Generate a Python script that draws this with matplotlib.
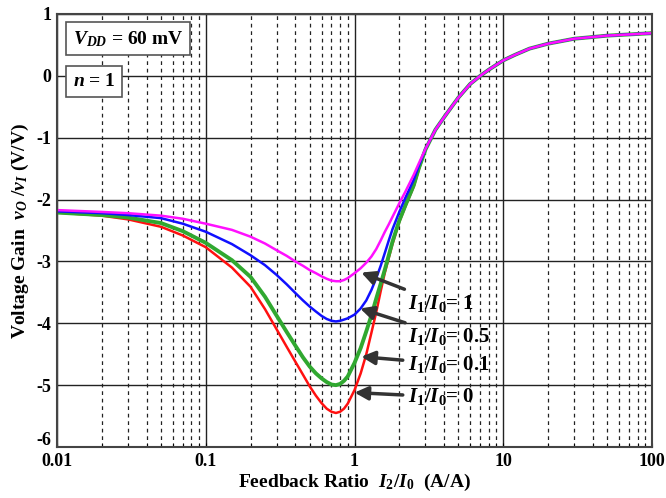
import matplotlib.pyplot as plt
import matplotlib.transforms as mtransforms
import numpy as np

plt.rcParams['font.family'] = ['Liberation Serif', 'DejaVu Serif']
plt.rcParams['font.weight'] = 'bold'
plt.rcParams['axes.labelweight'] = 'bold'
plt.rcParams['axes.unicode_minus'] = False
plt.rcParams['mathtext.fontset'] = 'custom'
plt.rcParams['mathtext.rm'] = 'Liberation Serif:bold'
plt.rcParams['mathtext.it'] = 'Liberation Serif:bold:italic'
plt.rcParams['mathtext.bf'] = 'Liberation Serif:bold'

# feedback ratio I2/I0, up to where the four curves merge
ratio = [0.01, 0.02, 0.03, 0.05, 0.07, 0.1, 0.15, 0.2, 0.25, 0.3, 0.35,
         0.4, 0.45, 0.5, 0.55, 0.6, 0.65, 0.7, 0.75, 0.8, 0.85, 0.9, 1.0,
         1.1, 1.2, 1.3, 1.4, 1.5, 1.6, 1.7, 1.8, 2.0, 2.2, 2.5, 2.7, 3.0]
# shared tail of all curves
ratio_tail = [3.5, 4.0, 4.5, 5.0, 6.0, 7.0, 8.0, 10, 12, 15, 20, 30, 50, 100]
gain_tail = [-0.87, -0.67, -0.50, -0.35, -0.13, 0.00, 0.10, 0.25, 0.34,
             0.44, 0.52, 0.60, 0.65, 0.69]

gain_0 = [-2.21, -2.26, -2.32, -2.44, -2.58, -2.77, -3.10, -3.41, -3.77,
          -4.10, -4.38, -4.62, -4.83, -5.02, -5.17, -5.29, -5.38, -5.43,
          -5.45, -5.43, -5.38, -5.30, -5.08, -4.81, -4.50, -4.15, -3.82,
          -3.48, -3.18, -2.94, -2.72, -2.36, -2.11, -1.79, -1.52, -1.19]
gain_01 = [-2.21, -2.25, -2.29, -2.38, -2.51, -2.70, -2.98, -3.25, -3.57,
           -3.88, -4.14, -4.36, -4.55, -4.70, -4.81, -4.89, -4.95, -4.99,
           -5.00, -4.98, -4.93, -4.86, -4.64, -4.40, -4.13, -3.87, -3.60,
           -3.36, -3.13, -2.90, -2.68, -2.34, -2.09, -1.77, -1.50, -1.19]
gain_05 = [-2.19, -2.22, -2.25, -2.30, -2.39, -2.52, -2.72, -2.90, -3.06,
           -3.22, -3.37, -3.51, -3.63, -3.73, -3.81, -3.88, -3.93, -3.96,
           -3.97, -3.96, -3.94, -3.92, -3.86, -3.76, -3.63, -3.46, -3.27,
           -3.07, -2.86, -2.66, -2.48, -2.20, -1.97, -1.68, -1.46, -1.18]
gain_1 = [-2.17, -2.20, -2.22, -2.26, -2.31, -2.39, -2.49, -2.60, -2.71,
          -2.82, -2.91, -3.00, -3.07, -3.14, -3.19, -3.24, -3.28, -3.31,
          -3.32, -3.32, -3.30, -3.27, -3.19, -3.11, -3.02, -2.92, -2.80,
          -2.66, -2.52, -2.40, -2.28, -2.06, -1.87, -1.60, -1.42, -1.18]

series = [
    (gain_0, '#ff1010', 1.8),
    (gain_01, '#30a830', 2.8),
    (gain_05, '#1010ff', 1.8),
    (gain_1, '#ff10ff', 1.8),
]

labels = ['1', '0.5', '0.1', '0']
arrow_tips = [(1.11, -3.18), (1.09, -3.76), (1.11, -4.54), (1.0, -5.12)]
text_y = [-3.68, -4.22, -4.66, -5.19]

fig = plt.figure(figsize=(6.66, 4.98), dpi=100)
ax = fig.add_axes([0.0856, 0.1024, 0.8934, 0.8695])

for g, c, lw in series:
    ax.plot(ratio + ratio_tail, g + gain_tail, color=c, lw=lw)

ax.set_xscale('log')
ax.set_xlim(0.01, 100)
ax.set_ylim(-6, 1)
ax.set_yticks(range(-6, 2))

ax.grid(True, which='major', color='#222222', ls='-', lw=1.0)
ax.grid(True, which='minor', axis='x', color='#222222', ls=(0, (3, 3)), lw=0.9)
ax.set_axisbelow(True)
for s in ax.spines.values():
    s.set_color('#444444')
    s.set_linewidth(1.5)

ax.set_xticks([0.01, 0.1, 1, 10, 100])
ax.set_xticklabels(['0.01', '0.1', '1', '10', '100'])
ax.tick_params(axis='both', which='both', direction='in', labelsize=13,
               length=3, pad=4)
ax.tick_params(axis='y', length=0)
for lbl in ax.get_xticklabels() + ax.get_yticklabels():
    lbl.set_fontweight('bold')
# the bottom y label sits a little higher, as in the original
lbl6 = ax.get_yticklabels()[0]
lbl6.set_transform(lbl6.get_transform() +
                   mtransforms.ScaledTranslation(0, 6 / 72, fig.dpi_scale_trans))

ax.set_xlabel(r'Feedback Ratio  $I_2/I_0$  (A/A)', fontsize=14, labelpad=2)
ax.set_ylabel(r'Voltage Gain  $v_O$ /$v_I$ (V/V)', fontsize=14, labelpad=4)

for lab, tip, ty in zip(labels, arrow_tips, text_y):
    ax.annotate(r'$I_1/I_0$= ' + lab, xy=tip, xytext=(2.3, ty),
                fontsize=15, va='center', ha='left',
                arrowprops=dict(arrowstyle='-|>', color='#333333', lw=2.5,
                                mutation_scale=20, shrinkA=2, shrinkB=0))

box = dict(boxstyle='square,pad=0.35', fc='white', ec='#555555', lw=1.2)
ax.text(0.027, 0.943, r'$V_{DD}$ = 60 mV', transform=ax.transAxes,
        fontsize=14, va='center', ha='left', bbox=box)
ax.text(0.027, 0.844, r'$n$ = 1', transform=ax.transAxes,
        fontsize=14, va='center', ha='left', bbox=box)

fig.savefig('out.png', dpi=100)
